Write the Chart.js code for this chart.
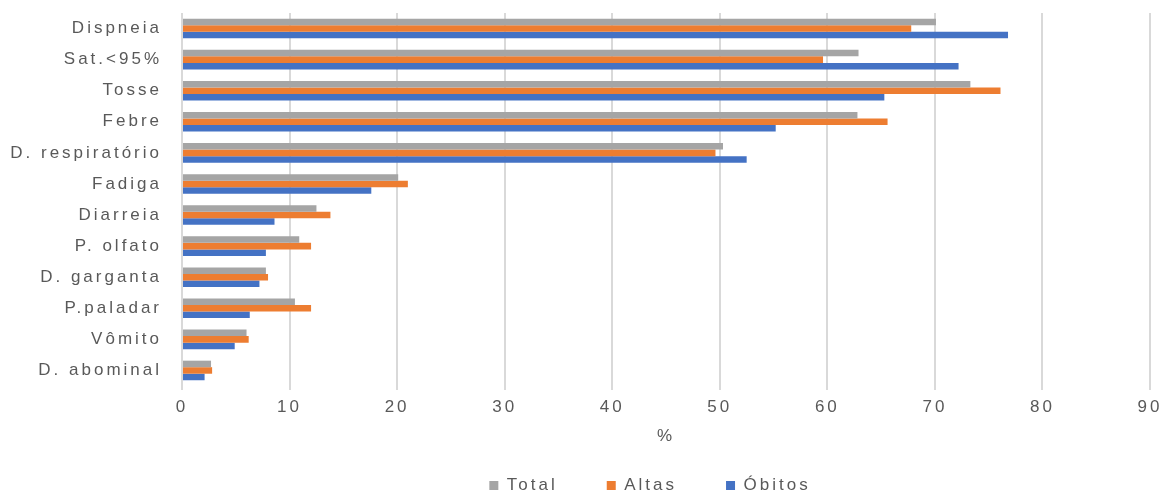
<!DOCTYPE html>
<html>
<head>
<meta charset="utf-8">
<script src="https://cdn.jsdelivr.net/npm/chart.js@4/dist/chart.umd.min.js"></script>
<style>
  html, body { margin: 0; padding: 0; background: #fff; }
  #wrap { width: 1166px; height: 494px; }
</style>
</head>
<body>
<div id="wrap"><canvas id="chart"></canvas></div>
<script>
// symptoms, top to bottom
var sintomas = ['Dispneia', 'Sat.<95%', 'Tosse', 'Febre', 'D. respiratório', 'Fadiga',
    'Diarreia', 'P. olfato', 'D. garganta', 'P.paladar', 'Vômito', 'D. abominal'];

// percentages per group
var total  = [70.1, 62.9, 73.3, 62.8, 50.3, 20.1, 12.5, 10.9, 7.8, 10.5, 6.0, 2.7];
var altas  = [67.8, 59.6, 76.1, 65.6, 49.6, 21.0, 13.8, 12.0, 8.0, 12.0, 6.2, 2.8];
var obitos = [76.8, 72.2, 65.3, 55.2, 52.5, 17.6, 8.6, 7.8, 7.2, 6.3, 4.9, 2.1];

var eixoX = { min: 0, max: 90, step: 10 };

var textColor = '#595959';
var fontFamily = '"Liberation Sans", Arial, sans-serif';
var LETTER_SPACING = '3px';
var LEGEND_HEIGHT = 66;
var LEGEND_SHIFT = -16;

// wide tracking on every text of the canvas
var spacingPlugin = {
    id: 'spacing',
    beforeLayout: function (chart) { chart.ctx.letterSpacing = LETTER_SPACING; },
    beforeDraw: function (chart) { chart.ctx.letterSpacing = LETTER_SPACING; }
};

// keep the legend low and thin, whatever its label padding is
var legendHeightPlugin = {
    id: 'legendHeight',
    afterInit: function (chart) {
        var legend = chart.legend;
        var fit = legend.fit;
        legend.fit = function () {
            fit.call(this);
            this.height = LEGEND_HEIGHT;
        };
    },
    afterLayout: function (chart) {
        chart.legend.left += LEGEND_SHIFT;
        chart.legend.right += LEGEND_SHIFT;
    }
};

var ctx = document.getElementById('chart').getContext('2d');
ctx.letterSpacing = LETTER_SPACING;
var myChart = new Chart(ctx, {
    type: 'bar',
    data: {
        labels: sintomas,
        datasets: [
            { label: 'Total',  data: total,  backgroundColor: '#a5a5a5' },
            { label: 'Altas',  data: altas,  backgroundColor: '#ed7d31' },
            { label: 'Óbitos', data: obitos, backgroundColor: '#4472c4' }
        ]
    },
    plugins: [spacingPlugin, legendHeightPlugin],
    options: {
        indexAxis: 'y',
        responsive: true,
        maintainAspectRatio: false,
        animation: false,
        layout: { padding: { left: 0, right: 16, top: 13, bottom: 0 } },
        datasets: {
            bar: { categoryPercentage: 0.63, barPercentage: 1.0 }
        },
        scales: {
            x: {
                min: eixoX.min,
                max: eixoX.max,
                ticks: {
                    stepSize: eixoX.step,
                    color: textColor,
                    padding: 7,
                    font: { family: fontFamily, size: 17 }
                },
                grid: {
                    color: '#d9d9d9',
                    lineWidth: 2,
                    drawTicks: true,
                    tickLength: 4
                },
                border: { display: false },
                title: {
                    display: true,
                    text: '%',
                    color: textColor,
                    padding: { top: -19, bottom: -19 },
                    font: { family: fontFamily, size: 17 }
                },
                afterFit: function (scale) {
                    scale.height = 42;
                    scale.paddingLeft = 0;
                    scale.paddingRight = 0;
                }
            },
            y: {
                ticks: {
                    color: textColor,
                    padding: 12,
                    font: { family: fontFamily, size: 17 }
                },
                grid: { display: false },
                border: { display: false },
                afterFit: function (scale) {
                    scale.width = 182;
                    scale.paddingTop = 0;
                    scale.paddingBottom = 0;
                }
            }
        },
        plugins: {
            legend: {
                position: 'bottom',
                fullSize: false,
                labels: {
                    color: textColor,
                    boxWidth: 9,
                    boxHeight: 9,
                    padding: 49,
                    font: { family: fontFamily, size: 17 }
                }
            },
            tooltip: { enabled: false }
        }
    }
});
</script>
</body>
</html>
